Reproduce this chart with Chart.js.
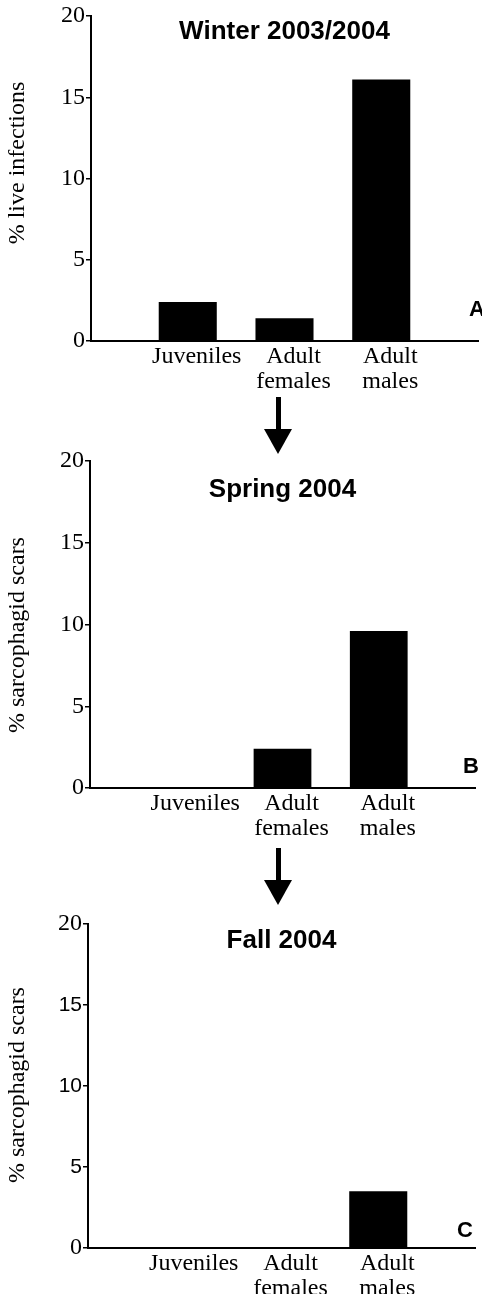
<!DOCTYPE html>
<html>
<head>
<meta charset="utf-8">
<script src="https://cdn.jsdelivr.net/npm/chart.js@4"></script>
<style>
  html, body { margin: 0; padding: 0; background: #fff; }
  #wrap { position: relative; width: 482px; height: 1294px; overflow: hidden; }
  canvas { position: absolute; left: 0; }
  .shaft { position: absolute; width: 5px; background: #000; }
  .head { position: absolute; width: 0; height: 0;
          border-left: 14px solid transparent; border-right: 14px solid transparent;
          border-top: 25px solid #000; }
</style>
</head>
<body>
<div id="wrap">
  <canvas id="chartA" width="482" height="395" style="top:0px"></canvas>
  <canvas id="chartB" width="482" height="400" style="top:440px"></canvas>
  <canvas id="chartC" width="482" height="399" style="top:895px"></canvas>
  <!-- arrows between panels -->
  <div class="shaft" style="left:276px; top:397px; height:33px"></div>
  <div class="head" style="left:264px; top:429px"></div>
  <div class="shaft" style="left:276px; top:848px; height:33px"></div>
  <div class="head" style="left:264px; top:880px"></div>
</div>
<script>
// === Data ===
const categories = [["Juveniles"], ["Adult", "females"], ["Adult", "males"]];
const winterLive = [2.4, 1.4, 16.1];
const springScars = [0, 2.4, 9.6];
const fallScars = [0, 0, 3.5];
const yTicks = [0, 5, 10, 15, 20];
const panelTitles = ["Winter 2003/2004", "Spring 2004", "Fall 2004"];
const panelLetters = ["A", "B", "C"];
const yTitles = ["% live infections", "% sarcophagid scars", "% sarcophagid scars"];

const SERIF = "'Liberation Serif', 'Times New Roman', serif";
const SANS = "'Liberation Sans', Arial, sans-serif";

// layout of each panel (pixels inside its canvas)
const panels = [
    { id: "chartA", values: winterLive, height: 395, area: { top: 16, bottom: 341, left: 91, right: 478 },
      titleY: 23, letterX: 469, letterY: -25, yTitleMid: 163, sansTicks: [] },
    { id: "chartB", values: springScars, height: 400, area: { top: 21, bottom: 348, left: 90, right: 475 },
      titleY: 36, letterX: 463, letterY: -15, yTitleMid: 195, sansTicks: [] },
    { id: "chartC", values: fallScars, height: 399, area: { top: 29, bottom: 353, left: 88, right: 475 },
      titleY: 24, letterX: 457, letterY: -11, yTitleMid: 190, sansTicks: [5, 10, 15] }
];

// title inside the plot, panel letter on the right, rotated y title
const panelText = {
    id: "panelText",
    afterDraw(chart, args, opts) {
        const { ctx, chartArea: a } = chart;
        ctx.save();
        ctx.fillStyle = "#000";
        ctx.textBaseline = "alphabetic";
        ctx.font = "bold 26px " + SANS;
        ctx.textAlign = "center";
        ctx.fillText(opts.title, (a.left + a.right) / 2, a.top + opts.titleY);
        ctx.font = "bold 22px " + SANS;
        ctx.textAlign = "left";
        ctx.fillText(opts.letter, opts.letterX, a.bottom + opts.letterY);

        ctx.translate(18, opts.yTitleMid);
        ctx.rotate(-Math.PI / 2);
        ctx.font = "24px " + SERIF;
        ctx.textAlign = "center";
        ctx.textBaseline = "middle";
        ctx.fillText(opts.yTitle, 0, 0);
        ctx.restore();
    }
};

panels.forEach((p, i) => {
    // empty slots on both ends so categories sit at 1..3 of a 0..4 axis
    const labels = [""].concat(categories, [""]);
    const data = [null].concat(p.values, [null]);

    new Chart(document.getElementById(p.id), {
        type: "bar",
        data: {
            labels,
            datasets: [{
                data,
                backgroundColor: "#000",
                borderWidth: 0,
                barPercentage: 0.6,
                categoryPercentage: 1
            }]
        },
        options: {
            responsive: false,
            animation: false,
            devicePixelRatio: 1,
            layout: { padding: { top: p.area.top, left: 0, right: 482 - p.area.right, bottom: 0 } },
            plugins: {
                legend: { display: false },
                tooltip: { enabled: false },
                panelText: { title: panelTitles[i], letter: panelLetters[i], titleY: p.titleY,
                             letterX: p.letterX, letterY: p.letterY,
                             yTitle: yTitles[i], yTitleMid: p.yTitleMid }
            },
            scales: {
                x: {
                    offset: false,
                    grid: { display: false, drawTicks: false },
                    border: { display: true, color: "#000", width: 2 },
                    ticks: {
                        color: "#000",
                        autoSkip: false,
                        maxRotation: 0,
                        padding: 3,
                        labelOffset: 9,
                        font: { family: SERIF, size: 24, lineHeight: 1.05 }
                    },
                    afterFit: s => { s.height = p.height - p.area.bottom; }
                },
                y: {
                    min: 0,
                    max: 20,
                    afterBuildTicks: s => { s.ticks = yTicks.map(v => ({ value: v })); },
                    grid: { display: true, drawOnChartArea: false, drawTicks: true, tickLength: 5,
                            color: "#000", lineWidth: 1.5 },
                    border: { display: true, color: "#000", width: 2 },
                    ticks: {
                        color: "#000",
                        padding: 1,
                        font: ctx => (ctx.tick && p.sansTicks.includes(ctx.tick.value))
                            ? { family: SANS, size: 21, lineHeight: 1.05 }
                            : { family: SERIF, size: 24, lineHeight: 1.05 }
                    },
                    afterFit: s => { s.width = p.area.left; }
                }
            }
        },
        plugins: [panelText]
    });
});
</script>
</body>
</html>
